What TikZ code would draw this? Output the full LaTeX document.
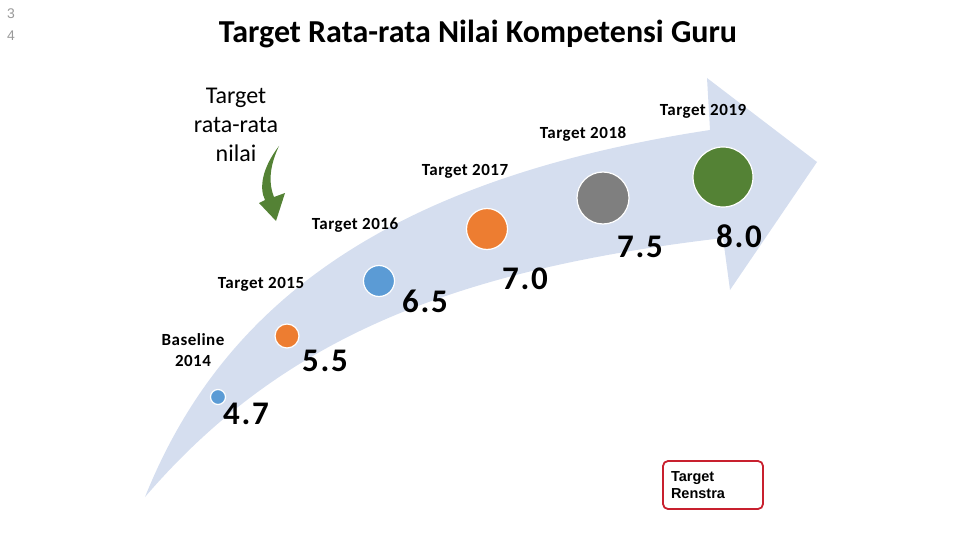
\documentclass[tikz,border=0pt]{standalone}
\usepackage{fontspec}
\setmainfont{Carlito}
\newfontfamily\arialfont{Liberation Sans}
\newfontfamily\lblfont[LetterSpace=3]{Carlito}
\newfontfamily\valfont[LetterSpace=5]{Carlito}
\definecolor{bandblue}{HTML}{D5DEEF}
\definecolor{dotblue}{HTML}{5B9BD5}
\definecolor{dotorange}{HTML}{ED7D31}
\definecolor{dotgray}{HTML}{7F7F7F}
\definecolor{dotgreen}{HTML}{548235}
\definecolor{boxred}{HTML}{C8202E}
\begin{document}
\begin{tikzpicture}[x=1pt,y=-1pt,line join=round,
  dot/.style={circle,draw=white,line width=1.2pt,inner sep=0pt},
  yearlbl/.style={font=\lblfont\fontsize{17}{21}\selectfont\bfseries,align=center},
  vallbl/.style={font=\valfont\fontsize{33}{38}\selectfont\bfseries}]
  \useasboundingbox (0,0) rectangle (960,540);
  \node[font=\arialfont\fontsize{14}{22}\selectfont,text=black!40,align=center] (pg) at (11,25) {3\\4};
  \node[font=\fontsize{32}{36}\selectfont\bfseries] (title) at (478,34) {Target Rata-rata Nilai Kompetensi Guru};
  \coordinate (tail) at (145,497);
  \coordinate (headtop) at (707,78);
  \coordinate (tip) at (817,162);
  \coordinate (headbot) at (730,290);
  \fill[bandblue] (tail) .. controls (220,310) and (380,180) .. (710,130) -- (headtop) -- (tip)
    -- (headbot) -- (723,238) .. controls (450,270) and (280,340) .. (tail) -- cycle;
  \node[font=\fontsize{24}{29}\selectfont,align=center] (legend) at (236,125) {Target\\rata-rata\\nilai};
  \fill[dotgreen] (279,146) .. controls (262,168) and (259,188) .. (265,200) -- (259,203)
    -- (276,221) -- (285,193) -- (274,197) .. controls (268,182) and (270,165) .. (279,146) -- cycle;
  \node[dot,fill=dotblue,minimum size=15pt] (d14) at (218,397) {};
  \node[dot,fill=dotorange,minimum size=24pt] (d15) at (287,336) {};
  \node[dot,fill=dotblue,minimum size=31pt] (d16) at (379,281) {};
  \node[dot,fill=dotorange,minimum size=41pt] (d17) at (487,229) {};
  \node[dot,fill=dotgray,minimum size=52pt] (d18) at (603,198) {};
  \node[dot,fill=dotgreen,minimum size=60pt] (d19) at (723,177) {};
  \node[yearlbl] (y14) at (193,350) {Baseline\\2014};
  \node[yearlbl] (y15) at (261,284) {Target 2015};
  \node[yearlbl] (y16) at (355,225) {Target 2016};
  \node[yearlbl] (y17) at (465,171) {Target 2017};
  \node[yearlbl] (y18) at (583,134) {Target 2018};
  \node[yearlbl] (y19) at (703,111) {Target 2019};
  \node[vallbl] (v14) at (246,414) {4.7};
  \node[vallbl] (v15) at (325,361) {5.5};
  \node[vallbl] (v16) at (425,301) {6.5};
  \node[vallbl] (v17) at (525,279) {7.0};
  \node[vallbl] (v18) at (640,247) {7.5};
  \node[vallbl] (v19) at (739,236) {8.0};
  \node[draw=boxred,line width=1.8pt,rounded corners=5pt,minimum width=100pt,minimum height=48pt,
    inner xsep=8pt,text width=84pt,align=left,font=\arialfont\bfseries\fontsize{14.5}{17}\selectfont]
    (renstra) at (713,485) {Target\\Renstra};
\end{tikzpicture}
\end{document}
